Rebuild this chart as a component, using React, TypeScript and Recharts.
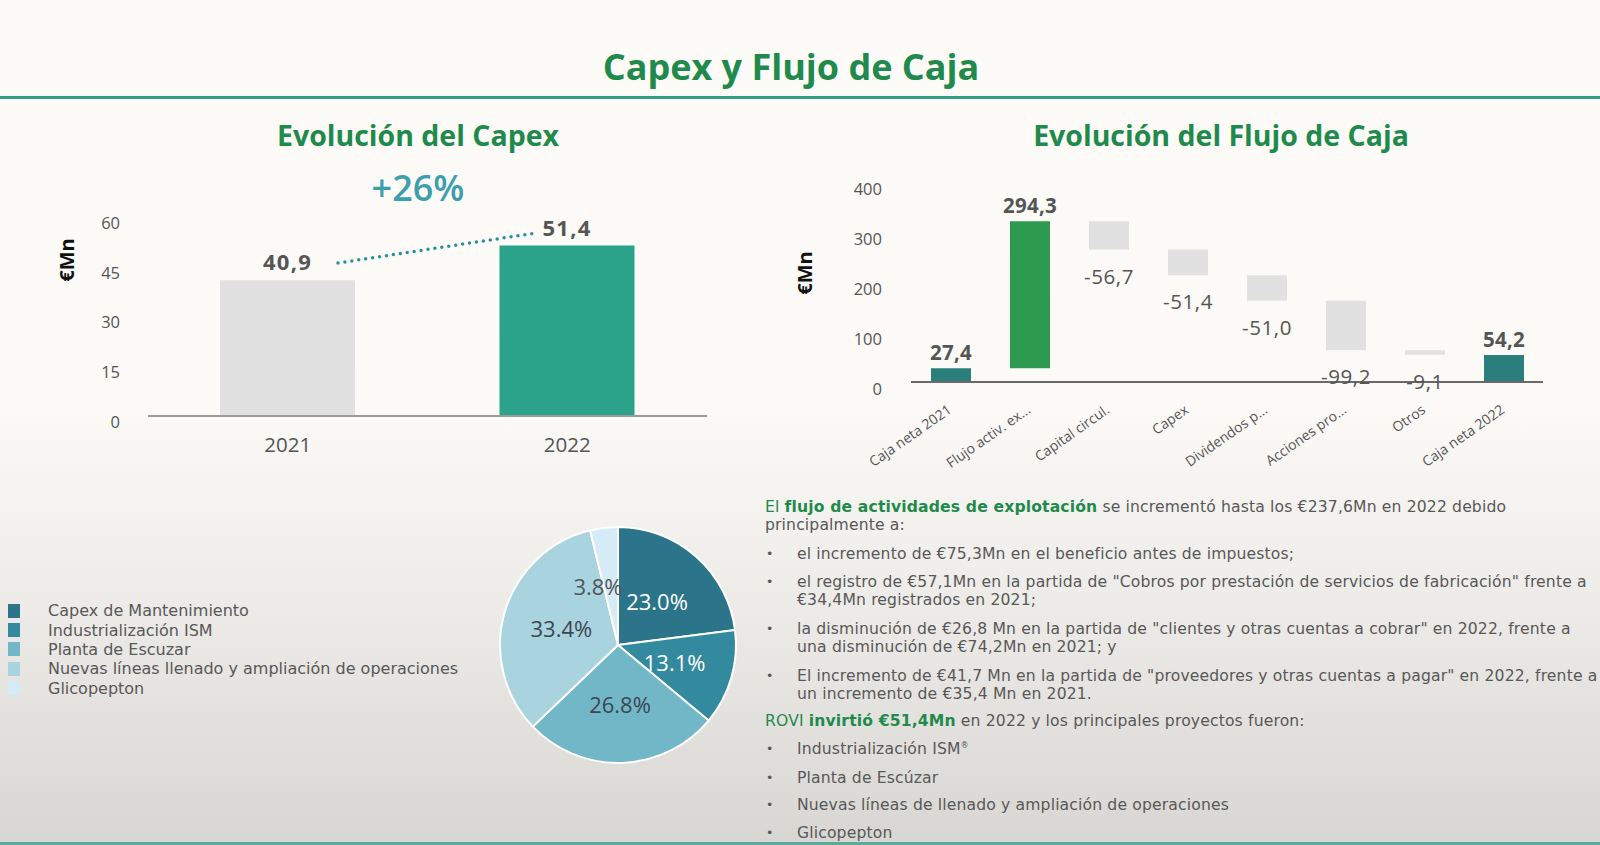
import React from "react";
import { Bar, BarChart, Cell, LabelList, Pie, PieChart, XAxis, YAxis } from "recharts";

const FONT = "'Open Sans', Lato, sans-serif";
const BODY_FONT = "'DejaVu Sans', 'Open Sans', sans-serif";
const GREEN = "#1f8a4c";
const TEXT = "#585858";

// Evolución del Capex
const capexYears = ["2021", "2022"];
const capexValues = [40.9, 51.4];
const capexTicks = [0, 15, 30, 45, 60];
const capexColors = ["#e1e1e1", "#2aa38a"];

// Evolución del Flujo de Caja (waterfall)
const flowCategories = [
  "Caja neta 2021",
  "Flujo activ. ex...",
  "Capital circul.",
  "Capex",
  "Dividendos p...",
  "Acciones pro...",
  "Otros",
  "Caja neta 2022",
];
const flowValues = [27.4, 294.3, -56.7, -51.4, -51.0, -99.2, -9.1, 54.2];
const flowIsTotal = [true, false, false, false, false, false, false, true];
const flowTicks = [0, 100, 200, 300, 400];

// Reparto del capex
const pieNames = [
  "Capex de Mantenimiento",
  "Industrialización ISM",
  "Planta de Escuzar",
  "Nuevas líneas llenado y ampliación de operaciones",
  "Glicopepton",
];
const pieValues = [23.0, 13.1, 26.8, 33.4, 3.8];
const pieColors = ["#2b7489", "#33899e", "#72b7c7", "#a9d4df", "#d5ebf5"];
const pieLabelColors = ["#ffffff", "#ffffff", "#3d4750", "#3d4750", "#50565c"];

const comma = (v: number) => v.toFixed(1).replace(".", ",");

const capexData = capexYears.map((year, i) => ({ year, value: capexValues[i] }));

let running = 0;
const flowData = flowCategories.map((name, i) => {
  const value = flowValues[i];
  let base = 0;
  if (flowIsTotal[i]) {
    running = value;
  } else {
    base = value >= 0 ? running : running + value;
    running += value;
  }
  return { name, value, base, size: Math.abs(value) };
});

const flowColor = (i: number) =>
  flowIsTotal[i] ? "#2a7f7c" : flowValues[i] >= 0 ? "#2e9a50" : "#e1e1e1";

const pieData = pieNames.map((name, i) => ({ name, value: pieValues[i] }));

const boxOf = (props: any) =>
  props.viewBox && props.viewBox.width != null ? props.viewBox : props;

function CapexLabel(props: any) {
  const { x, y, width } = boxOf(props);
  return (
    <text x={x + width / 2} y={y - 10} textAnchor="middle" fontSize={22} letterSpacing={1.2} fontWeight={700} fill="#555" fontFamily={FONT}>
      {comma(Number(props.value))}
    </text>
  );
}

function FlowLabel(props: any) {
  const { x, y, width, height } = boxOf(props);
  const v = Number(props.value);
  const cx = x + width / 2;
  if (v >= 0) {
    return (
      <text x={cx} y={y - 8} textAnchor="middle" fontSize={20.5} letterSpacing={0.3} fontWeight={700} fill="#555" fontFamily={FONT}>
        {comma(v)}
      </text>
    );
  }
  return (
    <text x={cx} y={y + height + 34} textAnchor="middle" fontSize={20.5} letterSpacing={0.6} fill="#555" fontFamily={FONT}>
      {comma(v)}
    </text>
  );
}

function FlowTick({ x, y, payload }: any) {
  return (
    <g transform={`translate(${x},${y})`}>
      <text x={2} y={30} textAnchor="end" transform="rotate(-35 2 30)" fontSize={14} fill="#555" fontFamily={FONT}>
        {payload.value}
      </text>
    </g>
  );
}

// the small slice label sits left of the 23.0% label so the two don't collide
const pieLabelNudge = [0, 0, 0, 0, -13];

function PieLabel({ cx, cy, midAngle, outerRadius, value, index }: any) {
  const r = outerRadius * 0.5;
  const a = (-midAngle * Math.PI) / 180;
  return (
    <text
      x={cx + r * Math.cos(a) + pieLabelNudge[index]}
      y={cy + r * Math.sin(a)}
      textAnchor="middle"
      dominantBaseline="central"
      fontSize={22}
      fill={pieLabelColors[index]}
      fontFamily={FONT}
    >
      {Number(value).toFixed(1)}%
    </text>
  );
}

const axisTitle = (dx: number, dy: number) => (props: any) => {
  const vb = props.viewBox;
  const x = vb.x + dx;
  const y = vb.y + dy;
  return (
    <text x={x} y={y} transform={`rotate(-90 ${x} ${y})`} textAnchor="middle" dominantBaseline="central" fontSize={20} fontWeight={700} fill="#111" fontFamily={FONT}>
      €Mn
    </text>
  );
};

function Line({ y, bullet, children }: { y: number; bullet?: boolean; children: React.ReactNode }) {
  return (
    <div
      style={{
        position: "absolute",
        left: 765,
        top: y - 8.25,
        display: "flex",
        fontFamily: BODY_FONT,
        fontSize: 15.6,
        letterSpacing: 0.15,
        lineHeight: "18.5px",
        color: TEXT,
        whiteSpace: "nowrap",
      }}
    >
      {bullet ? (
        <span style={{ display: "inline-block", width: 31, paddingLeft: 1, fontSize: 12.5 }}>•</span>
      ) : null}
      <div>{children}</div>
    </div>
  );
}

export default function App() {
  return (
    <div
      style={{
        position: "absolute",
        left: 0,
        top: 0,
        width: 1600,
        height: 845,
        overflow: "hidden",
        fontFamily: FONT,
        background: "linear-gradient(to bottom, #fcfbf8 0%, #fbfaf7 48%, #ecebe8 72%, #d7d6d2 100%)",
      }}
    >
      <div style={{ position: "absolute", top: 42, width: 1582, textAlign: "center", fontSize: 36, fontWeight: 700, color: GREEN }}>
        Capex y Flujo de Caja
      </div>
      <div style={{ position: "absolute", left: 0, top: 96, width: 1600, height: 3, background: "#2f9e84" }} />
      <div style={{ position: "absolute", left: 0, top: 842, width: 1600, height: 3, background: "#5fa89c" }} />

      <div style={{ position: "absolute", left: 218, top: 116, width: 400, textAlign: "center", fontSize: 28.5, fontWeight: 700, color: GREEN }}>
        Evolución del Capex
      </div>
      <div style={{ position: "absolute", left: 318, top: 163, width: 200, textAlign: "center", fontSize: 36, fontWeight: 600, color: "#3d9fae" }}>
        +26%
      </div>
      <div style={{ position: "absolute", left: 921, top: 116, width: 600, textAlign: "center", fontSize: 28.5, fontWeight: 700, color: GREEN }}>
        Evolución del Flujo de Caja
      </div>

      <div style={{ position: "absolute", left: 0, top: 0 }}>
        <BarChart width={760} height={480} data={capexData} margin={{ top: 217, right: 53, bottom: 24, left: 0 }}>
          <XAxis
            dataKey="year"
            height={40}
            tickLine={false}
            tickSize={0}
            tickMargin={21}
            axisLine={{ stroke: "#9a9a9a", strokeWidth: 2 }}
            tick={{ fontSize: 20.5, fill: "#555", fontFamily: FONT }}
          />
          <YAxis
            width={148}
            domain={[0, 60]}
            ticks={capexTicks}
            axisLine={false}
            tickLine={false}
            tickSize={0}
            tickMargin={28}
            tick={{ fontSize: 16.5, fill: "#555", fontFamily: FONT, dy: 6 }}
            label={axisTitle(66, 43)}
          />
          <Bar dataKey="value" barSize={135} isAnimationActive={false}>
            {capexData.map((d, i) => (
              <Cell key={d.year} fill={capexColors[i]} />
            ))}
            <LabelList dataKey="value" content={<CapexLabel />} />
          </Bar>
        </BarChart>
      </div>
      <svg style={{ position: "absolute", left: 0, top: 0 }} width={760} height={480}>
        <line x1={338} y1={263} x2={536} y2={233} stroke="#2d8f9a" strokeWidth={3.5} strokeLinecap="round" strokeDasharray="0 7" />
      </svg>

      <div style={{ position: "absolute", left: 760, top: 0 }}>
        <BarChart width={840} height={480} data={flowData} margin={{ top: 182, right: 57, bottom: 8, left: 0 }}>
          <XAxis
            dataKey="name"
            height={90}
            interval={0}
            tickLine={false}
            tickSize={0}
            tickMargin={0}
            axisLine={{ stroke: "#6a6a6a", strokeWidth: 2 }}
            tick={<FlowTick />}
          />
          <YAxis
            width={151}
            domain={[0, 400]}
            ticks={flowTicks}
            axisLine={false}
            tickLine={false}
            tickSize={0}
            tickMargin={29}
            tick={{ fontSize: 16.5, fill: "#555", fontFamily: FONT, dy: 7 }}
            label={axisTitle(44, 91)}
          />
          <Bar dataKey="base" stackId="w" fill="transparent" barSize={40} isAnimationActive={false} />
          <Bar dataKey="size" stackId="w" barSize={40} isAnimationActive={false}>
            {flowData.map((d, i) => (
              <Cell key={d.name} fill={flowColor(i)} />
            ))}
            <LabelList dataKey="value" content={<FlowLabel />} />
          </Bar>
        </BarChart>
      </div>

      <div style={{ position: "absolute", left: 8, top: 601, fontFamily: BODY_FONT, fontSize: 16, color: TEXT }}>
        {pieNames.map((name, i) => (
          <div key={name} style={{ display: "flex", alignItems: "center", height: 19.4 }}>
            <span style={{ display: "inline-block", width: 12, height: 14, background: pieColors[i], marginRight: 28 }} />
            <span style={{ whiteSpace: "nowrap" }}>{name}</span>
          </div>
        ))}
      </div>

      <div style={{ position: "absolute", left: 480, top: 505 }}>
        <PieChart width={276} height={280} margin={{ top: 0, right: 0, bottom: 0, left: 0 }}>
          <Pie
            data={pieData}
            dataKey="value"
            nameKey="name"
            cx={138}
            cy={140}
            outerRadius={118}
            startAngle={90}
            endAngle={-270}
            stroke="#ffffff"
            strokeWidth={2}
            labelLine={false}
            label={PieLabel}
            isAnimationActive={false}
          >
            {pieData.map((d, i) => (
              <Cell key={d.name} fill={pieColors[i]} />
            ))}
          </Pie>
        </PieChart>
      </div>

      <Line y={506}>
        <span style={{ color: GREEN }}>El </span>
        <b style={{ color: GREEN }}>flujo de actividades de explotación</b> se incrementó hasta los €237,6Mn en 2022 debido
        <br />
        principalmente a:
      </Line>
      <Line y={553} bullet>el incremento de €75,3Mn en el beneficio antes de impuestos;</Line>
      <Line y={581} bullet>
        el registro de €57,1Mn en la partida de "Cobros por prestación de servicios de fabricación" frente a
        <br />
        €34,4Mn registrados en 2021;
      </Line>
      <Line y={628} bullet>
        la disminución de €26,8 Mn en la partida de "clientes y otras cuentas a cobrar" en 2022, frente a
        <br />
        una disminución de €74,2Mn en 2021; y
      </Line>
      <Line y={675} bullet>
        El incremento de €41,7 Mn en la partida de "proveedores y otras cuentas a pagar" en 2022, frente a
        <br />
        un incremento de €35,4 Mn en 2021.
      </Line>
      <Line y={720}>
        <span style={{ color: GREEN }}>ROVI </span>
        <b style={{ color: GREEN }}>invirtió €51,4Mn</b> en 2022 y los principales proyectos fueron:
      </Line>
      <Line y={748} bullet>
        Industrialización ISM<sup style={{ fontSize: 8, lineHeight: 0 }}>®</sup>
      </Line>
      <Line y={777} bullet>Planta de Escúzar</Line>
      <Line y={804} bullet>Nuevas líneas de llenado y ampliación de operaciones</Line>
      <Line y={832} bullet>Glicopepton</Line>
    </div>
  );
}
